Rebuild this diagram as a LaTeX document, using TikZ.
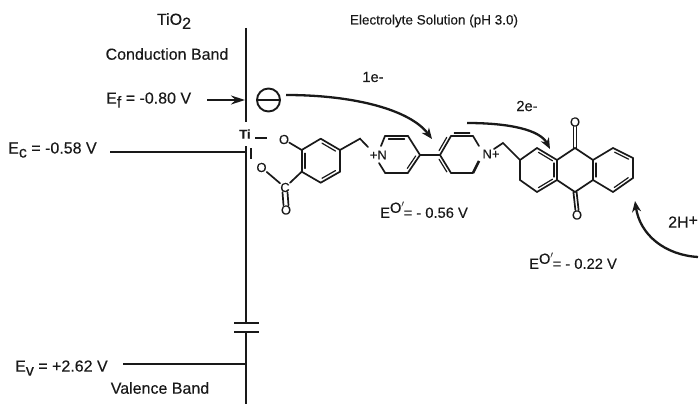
\documentclass[tikz,border=0pt]{standalone}
\usepackage{fontspec}
\setmainfont{Liberation Sans}[FakeBold=0.25]
\usetikzlibrary{arrows.meta,calc}
\tikzset{
 lab/.style={inner sep=0pt,font=\fontsize{16}{18}\selectfont,text=black!90},
 labs/.style={inner sep=0pt,font=\fontsize{13.5}{15}\selectfont,text=black!90},
 labm/.style={inner sep=0pt,font=\fontsize{14.7}{16}\selectfont,text=black!90},
 atom/.style={inner sep=0pt,font=\fontsize{13}{14}\selectfont,text=black!90},
 bond/.style={line width=1.7pt,line cap=round,black!90},
 band/.style={line width=2.4pt,black!90},
 curv/.style={line width=2.3pt,black!90,-{Stealth[length=11pt,width=9pt]}},
}
\newcommand{\dbl}[3]{\draw[bond] (#1) -- (#2); \draw[bond,line width=1.2pt] ($(#1)!0.15!(#2)!#3!90:(#2)$) -- ($(#2)!0.15!(#1)!#3!-90:(#1)$);}
\begin{document}
\begin{tikzpicture}[x=1pt,y=-1pt]
\useasboundingbox (0,0) rectangle (699,404);
% band lines
\coordinate (t1) at (246,28); \coordinate (t2) at (246,122);
\coordinate (m1) at (246,146); \coordinate (m2) at (246,323);
\coordinate (m3) at (246,332); \coordinate (m4) at (246,404);
\coordinate (pa1) at (234,323); \coordinate (pa2) at (259,323);
\coordinate (pb1) at (234,332); \coordinate (pb2) at (259,332);
\coordinate (ec) at (110,152); \coordinate (ece) at (246,152);
\coordinate (ev) at (123,364); \coordinate (eve) at (246,364);
\coordinate (efa) at (207,100); \coordinate (efb) at (245,100);
\draw[band] (t1)--(t2); \draw[band] (m1)--(m2); \draw[band] (m3)--(m4);
\draw[band] (pa1)--(pa2); \draw[band] (pb1)--(pb2);
\draw[band] (ec)--(ece); \draw[band] (ev)--(eve);
\draw[line width=1.5pt,black!90,-{Stealth[length=14pt,width=9pt]}] (efa)--(efb);
% electron
\node[draw=black!90,line width=1.9pt,circle,minimum size=23pt,inner sep=0pt] (el) at (268.5,100) {};
\draw[line width=2.4pt,black!90] (el.west)--(el.east);
% labels
\node[lab] (tio) at (174,21) {TiO\raisebox{-4pt}{2}};
\node[lab] (cb) at (167,54) {Conduction Band};
\node[lab,anchor=west] (ef) at (106,100) {E\raisebox{-4pt}{f} = -0.80 V};
\node[lab,anchor=west] (ecl) at (8,150) {E\raisebox{-4pt}{c} = -0.58 V};
\node[lab,anchor=west] (evl) at (15,368) {E\raisebox{-4pt}{v} = +2.62 V};
\node[lab] (vb) at (160,388) {Valence Band};
\node[labs] (es) at (434,21) {Electrolyte Solution (pH 3.0)};
\node[labm] (e1) at (373,77) {1e-};
\node[labm] (e2) at (527,106) {2e-};
\node[lab,anchor=west] (hp) at (668,222) {2H\raisebox{2pt}{+}};
\node[labm,anchor=west] (e56) at (380,210) {E\raisebox{5pt}{O$'$}\hspace{-1pt}= - 0.56 V};
\node[labm,anchor=west] (e22) at (529,261) {E\raisebox{5pt}{O$'$}\hspace{-1pt}= - 0.22 V};
% Ti
\node[atom,font=\fontsize{13}{14}\bfseries\selectfont] (ti) at (245,134) {Ti};
\coordinate (d1) at (255,138); \coordinate (d2) at (267,138);
\draw[band] (d1)--(d2);
\coordinate (s1) at (251,148); \coordinate (s2) at (251,159);
\draw[band] (s1)--(s2);
% ring 1
\coordinate (a1) at (320.7,138.7); \coordinate (a2) at (340,150);
\coordinate (a3) at (340,171.7); \coordinate (a4) at (320.7,182.7);
\coordinate (a5) at (301.7,171.7); \coordinate (a6) at (301.7,150);
\dbl{a1}{a2}{-3.2pt}\draw[bond] (a2)--(a3);
\dbl{a3}{a4}{-3.2pt}\draw[bond] (a4)--(a5);
\dbl{a5}{a6}{-3.2pt}\draw[bond] (a6)--(a1);
\node[atom] (o1) at (284,139.5) {O};
\node[atom] (o2) at (261.5,167.5) {O};
\node[atom] (c1) at (285,187.5) {C};
\node[atom] (o3) at (286,210) {O};
\draw[bond] (o1)--(a6); \draw[bond] (o2)--(c1); \draw[bond] (c1)--(a5);
\draw[bond] ($(c1.south)+(-2.5,0)$)--($(o3.north)+(-2.5,0)$);
\draw[bond] ($(c1.south)+(2.5,0)$)--($(o3.north)+(2.5,0)$);
% linker
\coordinate (l1) at (360,138.7); \coordinate (l2) at (368,147);
\draw[bond] (a2)--(l1)--(l2);
% pyridinium 1
\node[atom,anchor=east] (n1) at (387,155) {+N};
\coordinate (p1) at (385,136); \coordinate (p2) at (408,136);
\coordinate (p3) at (420,155); \coordinate (p4) at (408,172.7);
\coordinate (p5) at (385,172.7);
\dbl{p1}{p2}{-3pt}\dbl{p3}{p4}{-3pt}
\draw[bond] (p2)--(p3); \draw[bond] (p4)--(p5);
\coordinate (pn1) at (381,146); \coordinate (pn2) at (379,163);
\draw[bond] (p1)--(pn1); \draw[bond] (p5)--(pn2);
% pyridinium 2
\coordinate (q1) at (440,155); \coordinate (q2) at (451,136);
\coordinate (q3) at (473,136); \coordinate (q5) at (473,173);
\coordinate (q6) at (451,173); \coordinate (qn1) at (479,146); \coordinate (qn2) at (479,161);
\draw[bond] (p3)--(q1);
\dbl{q2}{q1}{-3pt}\dbl{q3}{q2}{-3pt}\dbl{q1}{q6}{-3pt}
\draw[bond] (q6)--(q5);
\node[atom] (n2) at (491,154) {N+};
\draw[bond] (q3)--(qn1); \draw[line width=2.6pt,black!90] (q5)--(qn2);
% linker 2
\coordinate (r0) at (494,149); \coordinate (r1) at (503,143); \coordinate (b1) at (520,160);
\draw[bond] (r0)--(r1)--(b1);
% anthraquinone
\coordinate (b2) at (537,148); \coordinate (b3) at (557,160);
\coordinate (b4) at (557,180); \coordinate (b5) at (537,192);
\coordinate (b6) at (520,180);
\coordinate (g1) at (575,148); \coordinate (g2) at (593,160);
\coordinate (g3) at (593,180); \coordinate (g4) at (575,192);
\coordinate (h1) at (613,148); \coordinate (h2) at (633,158);
\coordinate (h3) at (633,178); \coordinate (h4) at (613,192);
\draw[bond] (b1)--(b6);
\dbl{b2}{b3}{-3pt}\dbl{b3}{b4}{-3pt}\dbl{b4}{b5}{-3pt}
\draw[bond] (b1)--(b2); \draw[bond] (b6)--(b5);
\draw[bond] (b3)--(g1)--(g2) (b4)--(g4)--(g3);
\dbl{g3}{g2}{-3pt}
\draw[bond] (g2)--(h1) (g3)--(h4);
\dbl{h1}{h2}{-3pt}\draw[bond] (h2)--(h3);
\dbl{h3}{h4}{-3pt}
\node[atom] (o4) at (575,122) {O};
\node[atom] (o5) at (577,215) {O};
\draw[bond] ($(g1)+(-1.6,0)$)--($(o4.south)+(-1.6,0)$);
\draw[bond] ($(g1)+(1.6,0)$)--($(o4.south)+(1.6,0)$);
\draw[bond] ($(g4)+(-1.6,0)$)--($(o5.north)+(-1.6,0)$);
\draw[bond] ($(g4)+(1.6,0)$)--($(o5.north)+(1.6,0)$);
% curved arrows
\coordinate (c1a) at (286,95); \coordinate (c1b) at (432,139);
\coordinate (c2a) at (467,123); \coordinate (c2b) at (550,149);
\coordinate (c3a) at (698,257); \coordinate (c3b) at (635,201);
\draw[curv] (c1a) .. controls (355,95) and (410,110) .. (c1b);
\draw[curv] (c2a) .. controls (510,123) and (540,130) .. (c2b);
\draw[curv] (c3a) .. controls (665,255) and (640,235) .. (c3b);
\end{tikzpicture}
\end{document}
